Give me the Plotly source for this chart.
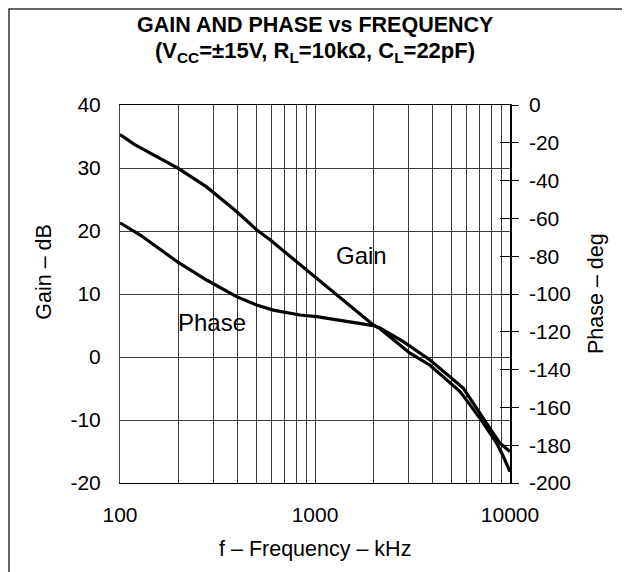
import plotly.graph_objects as go

# ---- data ----
gain_freq_khz = [100, 119, 199, 278, 396, 502, 588, 716, 980, 1396, 1990, 2155,
                 3069, 3890, 5545, 6240, 7300, 8550, 9245, 10000]
gain_db = [35.3, 33.7, 29.95, 27.0, 23.1, 20.2, 18.6, 16.4, 13.0, 9.05, 5.1, 4.5,
           0.6, -1.3, -5.5, -7.6, -10.5, -13.7, -15.8, -18.2]

phase_freq_khz = [100, 127, 199, 278, 396, 502, 611, 838, 1020, 1343, 1990, 2155,
                  2838, 3890, 5770, 7015, 8210, 8890, 10000]
phase_deg = [-62.3, -68.8, -83.3, -92.6, -101.4, -105.8, -108.5, -111.1, -112.0,
             -113.8, -116.7, -118.0, -125.2, -134.9, -149.9, -163.1, -173.7,
             -179.0, -183.4]

x_tickvals = [100, 200, 300, 400, 500, 600, 700, 800, 900,
              1000, 2000, 3000, 4000, 5000, 6000, 7000, 8000, 9000, 10000]
x_ticktext = ["100", "", "", "", "", "", "", "", "",
              "1000", "", "", "", "", "", "", "", "", "10000"]
gain_ticks = [-20, -10, 0, 10, 20, 30, 40]
gain_ticktext = ["-20", "-10", "0", "10", "20", "30", "40"]
phase_ticks = [-200, -180, -160, -140, -120, -100, -80, -60, -40, -20, 0]
phase_ticktext = ["-200", "-180", "-160", "-140", "-120", "-100", "-80", "-60",
                  "-40", "-20", "0"]

FONT = "Liberation Sans, Arial, sans-serif"
GRID = "#3a3a3a"

fig = go.Figure()
fig.add_trace(go.Scatter(x=gain_freq_khz, y=gain_db, mode="lines", name="Gain",
                         line=dict(color="black", width=3.2),
                         yaxis="y"))
fig.add_trace(go.Scatter(x=phase_freq_khz, y=phase_deg, mode="lines", name="Phase",
                         line=dict(color="black", width=3.2),
                         yaxis="y2"))
# invisible helper so the inside-tick axis renders
fig.add_trace(go.Scatter(x=[phase_freq_khz[0]], y=[phase_deg[0]], mode="markers",
                         marker=dict(opacity=0), yaxis="y3", hoverinfo="skip"))

# page is drawn with an 8 px body margin, so the figure is 8 px smaller
fig.update_layout(
    width=622, height=564, autosize=False,
    margin=dict(l=112, r=120, t=97, b=89),
    paper_bgcolor="white", plot_bgcolor="white",
    showlegend=False,
    font=dict(family=FONT, size=21, color="black"),
    xaxis=dict(type="log", range=[2, 4], tickvals=x_tickvals, ticktext=x_ticktext,
               showgrid=True, gridcolor=GRID, gridwidth=1,
               showline=True, linecolor="black", linewidth=1, mirror=True,
               ticks="", ticklabelstandoff=13, zeroline=False,
               tickfont=dict(size=21)),
    yaxis=dict(range=[-20, 40], tickvals=gain_ticks, ticktext=gain_ticktext,
               showgrid=True, gridcolor=GRID, gridwidth=1,
               showline=True, linecolor="#444", linewidth=1,
               ticks="", ticklabelstandoff=14, zeroline=False,
               tickfont=dict(size=21)),
    yaxis2=dict(range=[-200, 0], tickvals=phase_ticks, ticktext=phase_ticktext,
                overlaying="y", side="right",
                anchor="x", showgrid=False, zeroline=False,
                showline=True, linecolor="black", linewidth=1.5,
                ticks="outside", ticklen=7, tickcolor="black", tickwidth=1,
                ticklabelstandoff=6, tickfont=dict(size=21)),
    yaxis3=dict(range=[-200, 0], tickvals=phase_ticks, overlaying="y", side="right",
                anchor="x", showgrid=False, zeroline=False, showline=False,
                ticks="inside", ticklen=10, tickcolor="black", tickwidth=1,
                showticklabels=False),
)

ann = [
    dict(text="<b>GAIN AND PHASE vs FREQUENCY</b>", x=0.5, y=1.2116, size=21.5),
    dict(text="<b>(V<sub>CC</sub>=±15V, R<sub>L</sub>=10kΩ, C<sub>L</sub>=22pF)</b>",
         x=0.5, y=1.141, size=22),
    dict(text="f – Frequency – kHz", x=0.5, y=-0.1746, size=21.5),
    dict(text="Gain", x=(361.5 - 120) / 390, y=(483 - 256) / 378, size=24),
    dict(text="Phase", x=(211.5 - 120) / 390, y=(483 - 322.5) / 378, size=24),
]
for a in ann:
    fig.add_annotation(text=a["text"], x=a["x"], y=a["y"], xref="paper", yref="paper",
                       showarrow=False, xanchor="center", yanchor="middle",
                       font=dict(family=FONT, size=a["size"], color="black"))

fig.add_annotation(text="Gain – dB", x=(44 - 120) / 390, y=(483 - 271.7) / 378,
                   xref="paper", yref="paper", showarrow=False, textangle=-90,
                   xanchor="center", yanchor="middle",
                   font=dict(family=FONT, size=21.5, color="black"))
fig.add_annotation(text="Phase – deg", x=(596 - 120) / 390, y=0.5,
                   xref="paper", yref="paper", showarrow=False, textangle=-90,
                   xanchor="center", yanchor="middle",
                   font=dict(family=FONT, size=21.5, color="black"))

# outer frame of the figure
fig.add_shape(type="rect", xref="paper", yref="paper",
              x0=(9 - 120) / 390, x1=(627 - 120) / 390,
              y0=(483 - 590) / 378, y1=(483 - 9) / 378,
              line=dict(color="#333", width=1.5), fillcolor="rgba(0,0,0,0)", layer="below")

fig.write_html("out.html")
